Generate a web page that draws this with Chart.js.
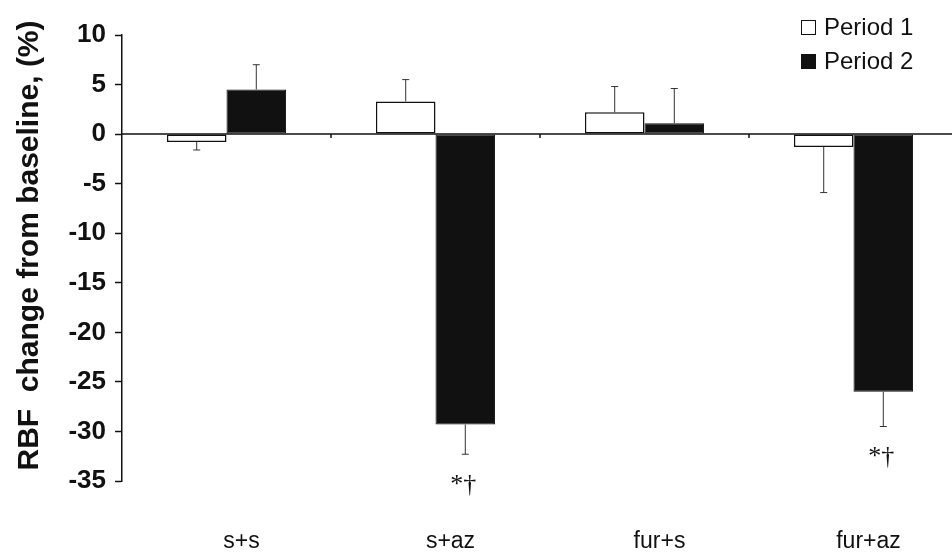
<!DOCTYPE html>
<html>
<head>
<meta charset="utf-8">
<script src="https://cdn.jsdelivr.net/npm/chart.js@4"></script>
<style>
  html, body { margin: 0; padding: 0; background: #fff; overflow: hidden; }
  #wrap { position: relative; width: 960px; height: 556px; }
  #legend { position: absolute; left: 801px; top: 10px; font: 24px "Liberation Sans", Arial, sans-serif; color: #111; }
  .leg-row { display: flex; align-items: center; height: 34px; }
  .leg-box { width: 15px; height: 15px; box-sizing: border-box; border: 1.5px solid #111; margin-right: 8px; }
</style>
</head>
<body>
<div id="wrap">
  <canvas id="grafico" width="960" height="556"></canvas>
  <div id="legend"></div>
</div>
<script>
// Datos
const categorias = ['s+s', 's+az', 'fur+s', 'fur+az'];
const periodo1 = [-0.8, 3.3, 2.2, -1.3];
const errPeriodo1 = [0.8, 2.2, 2.6, 4.6];
const periodo2 = [4.5, -29.3, 1.1, -26.0];
const errPeriodo2 = [2.5, 3.0, 3.5, 3.5];
const marcasPeriodo2 = ['', '*†', '', '*†'];
const ticksY = [10, 5, 0, -5, -10, -15, -20, -25, -30, -35];

const colores = {
    periodo1: '#ffffff',
    periodo2: '#111111',
    borde: '#111111',
    error: '#333333'
};

// Barras de error (solo hacia fuera del cero), marcas de significancia y ticks del eje en cero
const pluginErrores = {
    id: 'errores',
    afterDatasetsDraw(chart) {
        const ctx = chart.ctx;
        const y = chart.scales.y;
        const x = chart.scales.x;
        const errores = [errPeriodo1, errPeriodo2];
        const marcas = [null, marcasPeriodo2];

        ctx.save();
        // linea del cero por encima de las barras
        const y0 = y.getPixelForValue(0);
        ctx.strokeStyle = '#111';
        ctx.lineWidth = 1.5;
        ctx.beginPath();
        ctx.moveTo(chart.chartArea.left, y0);
        ctx.lineTo(chart.chartArea.right, y0);
        ctx.stroke();

        // pequeñas marcas entre categorias
        for (let i = 1; i < categorias.length; i++) {
            const xm = (x.getPixelForValue(i - 1) + x.getPixelForValue(i)) / 2;
            ctx.beginPath();
            ctx.moveTo(xm, y0);
            ctx.lineTo(xm, y0 + 4);
            ctx.stroke();
        }

        chart.data.datasets.forEach((ds, d) => {
            const meta = chart.getDatasetMeta(d);
            meta.data.forEach((bar, i) => {
                const v = ds.data[i];
                const signo = v < 0 ? -1 : 1;
                const fin = v + signo * errores[d][i];
                const yFin = y.getPixelForValue(fin);
                const yBar = y.getPixelForValue(v);
                ctx.strokeStyle = colores.error;
                ctx.lineWidth = 1;
                ctx.beginPath();
                ctx.moveTo(bar.x, yBar);
                ctx.lineTo(bar.x, yFin);
                ctx.moveTo(bar.x - 3.5, yFin);
                ctx.lineTo(bar.x + 3.5, yFin);
                ctx.stroke();

                if (marcas[d] && marcas[d][i]) {
                    ctx.fillStyle = '#111';
                    ctx.font = '26px "Liberation Serif", "Times New Roman", serif';
                    ctx.textAlign = 'center';
                    ctx.textBaseline = 'middle';
                    ctx.fillText(marcas[d][i], bar.x - 2, yFin + 31);
                }
            });
        });
        ctx.restore();
    }
};

const datasets = [
    {
        label: 'Period 1',
        data: periodo1,
        backgroundColor: colores.periodo1,
        borderColor: colores.borde,
        borderWidth: 1.5,
        borderSkipped: false
    },
    {
        label: 'Period 2',
        data: periodo2,
        backgroundColor: colores.periodo2,
        borderColor: colores.borde,
        borderWidth: 1,
        borderSkipped: false
    }
];

const grafico = new Chart(document.getElementById('grafico').getContext('2d'), {
    type: 'bar',
    data: { labels: categorias, datasets: datasets },
    plugins: [pluginErrores],
    options: {
        responsive: false,
        animation: false,
        layout: { padding: { top: 35, right: 2, left: 0, bottom: 0 } },
        datasets: { bar: { categoryPercentage: 0.57, barPercentage: 1.0 } },
        plugins: {
            legend: { display: false },
            tooltip: { enabled: false }
        },
        scales: {
            x: {
                grid: { display: false, drawTicks: false },
                border: { display: false },
                ticks: {
                    color: '#111',
                    font: { family: '"Liberation Sans", Arial, sans-serif', size: 23 },
                    padding: 47,
                    labelOffset: 15,
                    maxRotation: 0
                },
                afterFit: s => { s.height = 75; }
            },
            y: {
                min: -35,
                max: 10,
                afterBuildTicks: s => { s.ticks = ticksY.map(v => ({ value: v })); },
                grid: {
                    drawOnChartArea: false,
                    drawTicks: true,
                    tickLength: 7,
                    tickColor: '#111',
                    tickWidth: 1.5
                },
                border: { display: true, color: '#111', width: 1.5 },
                ticks: {
                    color: '#111',
                    padding: 9,
                    font: { family: '"Liberation Sans", Arial, sans-serif', size: 26, weight: 'bold' }
                },
                title: {
                    display: true,
                    text: '   RBF  change from baseline, (%)',
                    color: '#111',
                    padding: { top: 12, bottom: 0 },
                    font: { family: '"Liberation Sans", Arial, sans-serif', size: 30, weight: 'bold' }
                },
                afterFit: s => { s.width = 122; }
            }
        }
    }
});

// Leyenda en HTML a partir de los datasets
const leyenda = document.getElementById('legend');
datasets.forEach(ds => {
    leyenda.innerHTML += `
        <div class="leg-row">
            <div class="leg-box" style="background:${ds.backgroundColor}"></div>
            <span>${ds.label}</span>
        </div>`;
});
</script>
</body>
</html>
